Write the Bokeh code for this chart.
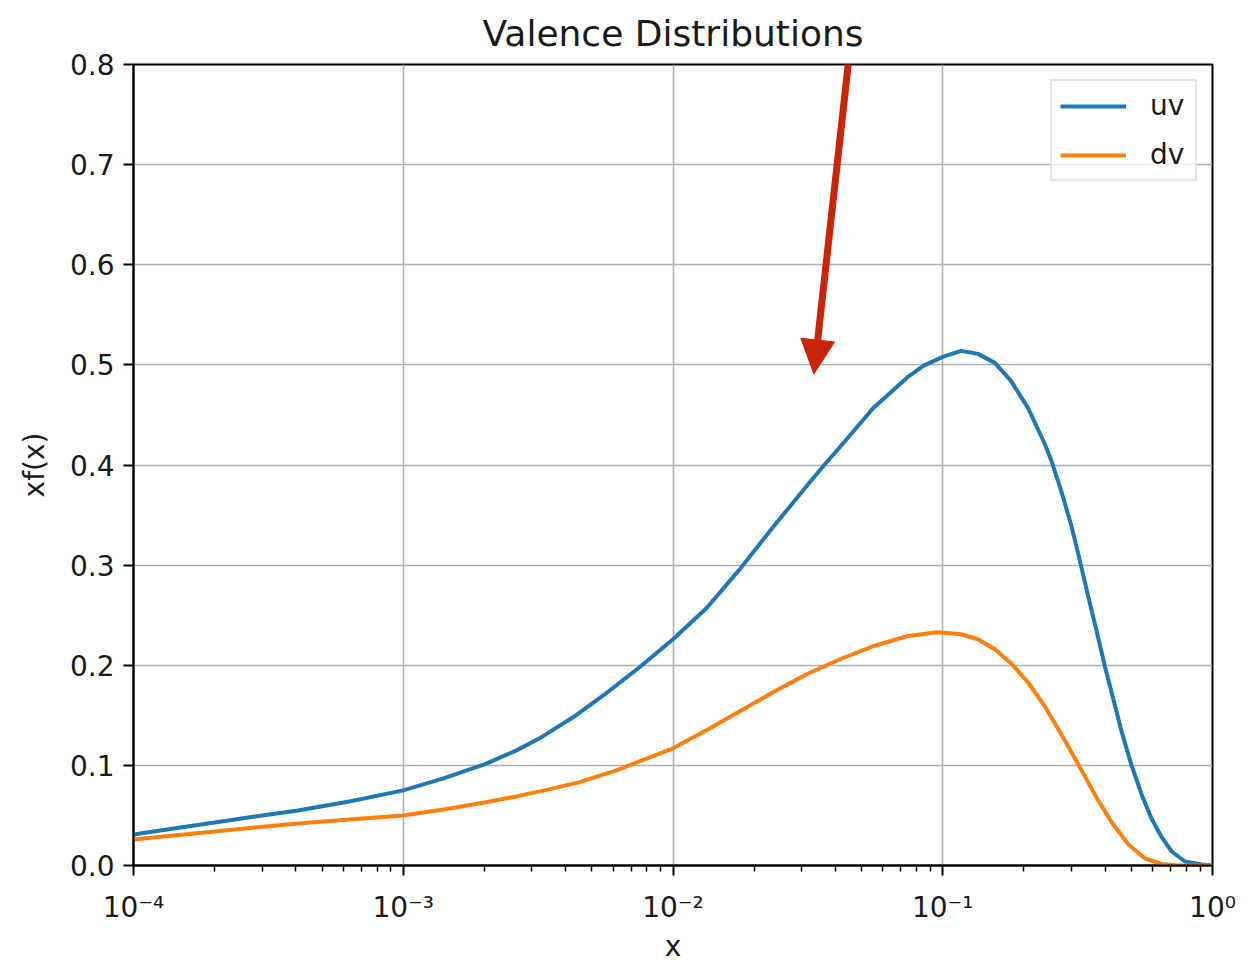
from bokeh.plotting import figure
from bokeh.models import (Range1d, FixedTicker, PrintfTickFormatter,
                          CustomJSTickFormatter, Arrow, NormalHead)
from bokeh.embed import file_html
from bokeh.resources import INLINE

# ---- data ----
uv_x = [1.00e-4, 1.41e-4, 2.00e-4, 2.82e-4, 4.07e-4, 6.31e-4, 1.00e-3, 1.41e-3,
        2.00e-3, 2.63e-3, 3.20e-3, 4.26e-3, 5.65e-3, 7.52e-3, 1.00e-2, 1.33e-2,
        1.77e-2, 2.35e-2, 3.13e-2, 3.61e-2, 4.16e-2, 5.53e-2, 7.35e-2, 8.47e-2,
        0.100, 0.117, 0.135, 0.156, 0.179, 0.207, 0.239, 0.253, 0.275, 0.300,
        0.322, 0.346, 0.372, 0.399, 0.429, 0.460, 0.501, 0.546, 0.594, 0.649,
        0.706, 0.791, 0.912, 1.0]
uv_y = [0.031, 0.037, 0.043, 0.049, 0.055, 0.064, 0.075, 0.087,
        0.101, 0.115, 0.127, 0.148, 0.172, 0.198, 0.226, 0.257,
        0.296, 0.338, 0.379, 0.399, 0.418, 0.457, 0.487, 0.499,
        0.508, 0.514, 0.511, 0.502, 0.484, 0.457, 0.421, 0.404, 0.374, 0.339,
        0.305, 0.269, 0.234, 0.199, 0.166, 0.134, 0.100, 0.071, 0.047, 0.028,
        0.014, 0.004, 0.001, 0.0]

dv_x = [1.00e-4, 1.41e-4, 2.00e-4, 2.82e-4, 4.07e-4, 6.31e-4, 1.00e-3, 1.41e-3,
        2.00e-3, 2.63e-3, 3.47e-3, 4.47e-3, 6.17e-3, 1.00e-2, 1.33e-2, 1.77e-2,
        2.35e-2, 3.13e-2, 4.16e-2, 5.53e-2, 7.35e-2, 9.51e-2, 0.117, 0.135,
        0.156, 0.179, 0.207, 0.239, 0.275, 0.318, 0.366, 0.423, 0.488, 0.562,
        0.649, 0.748, 1.0]
dv_y = [0.026, 0.030, 0.034, 0.038, 0.042, 0.046, 0.050, 0.056,
        0.063, 0.069, 0.076, 0.083, 0.095, 0.117, 0.135, 0.154,
        0.173, 0.191, 0.206, 0.219, 0.229, 0.233, 0.231, 0.226,
        0.216, 0.202, 0.183, 0.159, 0.131, 0.101, 0.071, 0.043, 0.021, 0.007,
        0.0015, 0.0, 0.0]

x_major_ticks = [1e-4, 1e-3, 1e-2, 1e-1, 1.0]
x_minor_ticks = [m * 10.0 ** e for e in range(-4, 0) for m in range(2, 10)]
y_ticks = [0.0, 0.1, 0.2, 0.3, 0.4, 0.5, 0.6, 0.7, 0.8]

arrow_start = (0.0475, 0.866)
arrow_end = (0.0333, 0.491)

FONT = "DejaVu Sans"
RED = "#c8250a"

p = figure(width=1255, height=965, x_axis_type="log",
           x_range=Range1d(1e-4, 1.0), y_range=Range1d(0.0, 0.8),
           output_backend="svg", toolbar_location=None,
           title="Valence Distributions",
           min_border_left=133, min_border_right=43,
           min_border_top=64, min_border_bottom=99,
           background_fill_color="white", border_fill_color="white")

p.title.text_font = FONT
p.title.text_font_size = "36px"
p.title.text_font_style = "normal"
p.title.align = "center"
p.title.text_color = "#1a1a1a"
p.title.standoff = 21

p.line(uv_x, uv_y, line_color="#1f77b4", line_width=4, legend_label="uv")
p.line(dv_x, dv_y, line_color="#ff7f0e", line_width=4, legend_label="dv")

# axes
p.xaxis.ticker = FixedTicker(ticks=x_major_ticks, minor_ticks=x_minor_ticks)
p.xaxis.formatter = CustomJSTickFormatter(code="""
const e = Math.round(Math.log10(tick));
const sup = {'-':'\u207b','0':'\u2070','1':'\u00b9','2':'\u00b2','3':'\u00b3',
             '4':'\u2074','5':'\u2075','6':'\u2076','7':'\u2077','8':'\u2078','9':'\u2079'};
return '10' + String(e).split('').map(c => sup[c]).join('');
""")
p.yaxis.ticker = FixedTicker(ticks=y_ticks)
p.yaxis.formatter = PrintfTickFormatter(format="%.1f")
p.yaxis.minor_tick_line_color = None

p.xaxis.axis_label = "x"
p.yaxis.axis_label = "xf(x)"

for ax in (p.xaxis, p.yaxis):
    ax.axis_line_width = 2
    ax.axis_line_color = "black"
    ax.major_tick_out = 10
    ax.major_tick_in = 0
    ax.minor_tick_out = 6
    ax.minor_tick_in = 0
    ax.major_tick_line_width = 2
    ax.minor_tick_line_width = 1.5
    ax.major_label_text_font = FONT
    ax.major_label_text_font_size = "28px"
    ax.major_label_text_color = "#1a1a1a"
    ax.axis_label_text_font = FONT
    ax.axis_label_text_font_size = "28px"
    ax.axis_label_text_font_style = "normal"
    ax.axis_label_text_color = "#1a1a1a"
    ax.major_label_standoff = 9

p.xaxis.major_label_standoff = 15
p.yaxis.axis_label_standoff = 16
p.xaxis.axis_label_standoff = 3

p.xgrid.ticker = FixedTicker(ticks=x_major_ticks)
p.ygrid.ticker = FixedTicker(ticks=y_ticks)
p.grid.grid_line_color = "#b0b0b0"
p.grid.grid_line_width = 1.6

p.outline_line_color = "black"
p.outline_line_width = 2
p.outline_line_alpha = 1.0

# legend
lg = p.legend[0]
lg.location = "top_right"
lg.margin = 15
lg.border_line_color = "#cccccc"
lg.border_line_width = 2
lg.background_fill_alpha = 0.8
lg.label_text_font = FONT
lg.label_text_font_size = "28px"
lg.label_text_color = "#1a1a1a"
lg.glyph_width = 66
lg.glyph_height = 30
lg.label_height = 30
lg.label_width = 37
lg.spacing = 16
lg.padding = 8
lg.label_standoff = 24

# red arrow annotation
p.add_layout(Arrow(end=NormalHead(size=34, fill_color=RED, line_color=RED, line_width=1),
                   x_start=arrow_start[0], y_start=arrow_start[1],
                   x_end=arrow_end[0], y_end=arrow_end[1],
                   line_color=RED, line_width=7))

open("out.html", "w").write(file_html(p, INLINE))
